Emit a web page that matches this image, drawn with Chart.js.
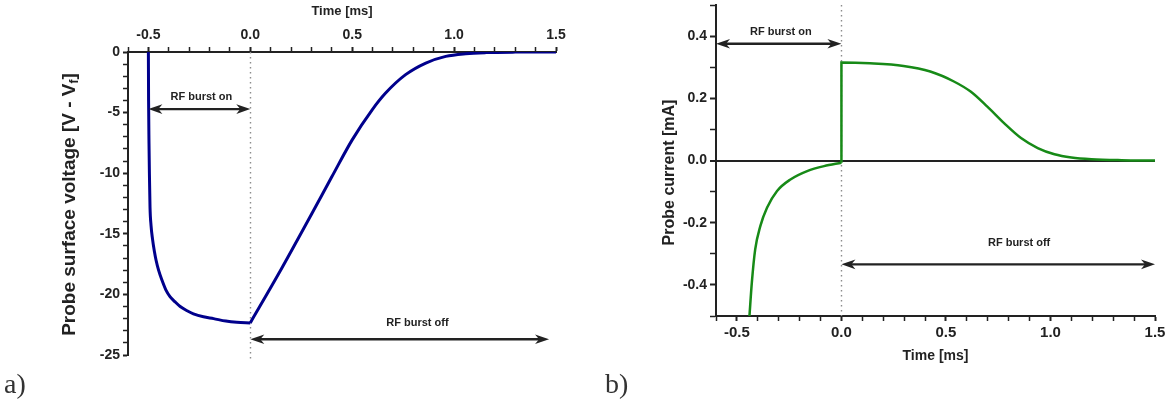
<!DOCTYPE html>
<html><head><meta charset="utf-8">
<script src="https://cdn.jsdelivr.net/npm/chart.js@4.4.1/dist/chart.umd.min.js"></script>
<style>
html,body{margin:0;padding:0;background:#fff;}
#wrap{position:relative;width:1170px;height:405px;overflow:hidden;background:#fff;}
canvas{position:absolute;top:0;}
#ca{left:0;} #cb{left:600px;}
.lbl{position:absolute;font-family:'Liberation Serif','DejaVu Serif',serif;font-size:28px;color:#333;line-height:1;}
</style></head><body>
<div id="wrap">
<canvas id="ca" width="600" height="405"></canvas>
<canvas id="cb" width="570" height="405"></canvas>
<div class="lbl" style="left:4px;top:370px">a)</div>
<div class="lbl" style="left:605px;top:370px">b)</div>
</div>
<script>
// ---------- data ----------
// a) probe surface voltage, RF burst on (t < 0)
const timeOnA = [-0.5, -0.499, -0.497, -0.495, -0.492, -0.487, -0.48, -0.47, -0.462, -0.45, -0.434, -0.415, -0.393, -0.37, -0.344, -0.31, -0.279, -0.23, -0.18, -0.12, -0.066, 0];
const voltOnA = [0, -4, -7.5, -10, -12.8, -14.3, -15.4, -16.5, -17.2, -18.0, -18.8, -19.6, -20.2, -20.6, -21.0, -21.35, -21.6, -21.85, -22.0, -22.2, -22.3, -22.35];
// a) RF burst off (t >= 0)
const timeOffA = [0, 0.139, 0.303, 0.40, 0.5, 0.598, 0.664, 0.762, 0.861, 0.959, 1.057, 1.156, 1.3, 1.5];
const voltOffA = [-22.35, -18.3, -13.3, -10.3, -7.25, -4.77, -3.39, -1.87, -0.91, -0.36, -0.14, -0.05, -0.01, 0];
// b) probe current, RF burst on
const timeOnB = [-0.44, -0.4286, -0.4125, -0.388, -0.356, -0.308, -0.244, -0.164, -0.083, 0];
const currOnB = [-0.5, -0.393, -0.286, -0.211, -0.152, -0.098, -0.061, -0.034, -0.018, -0.0075];
// b) RF burst off
const timeOffB = [0, 0, 0.136, 0.297, 0.425, 0.538, 0.618, 0.698, 0.778, 0.859, 0.939, 1.019, 1.1, 1.196, 1.34, 1.5];
const currOffB = [-0.0075, 0.315, 0.3125, 0.304, 0.286, 0.254, 0.2215, 0.173, 0.12, 0.072, 0.040, 0.020, 0.0096, 0.004, 0.001, 0];
// axis ranges / tick labels
const timeRange = [-0.6, 1.5];
const voltRange = [-25, 0];
const currRange = [-0.5, 0.5];
// annotations (data units)
const annotA = [
  {from: -0.5, to: 0, y: -4.71, text: 'RF burst on', tx: -0.24, ty: -3.72},
  {from: 0, to: 1.466, y: -23.7, text: 'RF burst off', tx: 0.82, ty: -22.35}
];
const annotB = [
  {from: -0.6, to: 0, y: 0.3756, text: 'RF burst on', tx: -0.29, ty: 0.413},
  {from: 0, to: 1.5, y: -0.334, text: 'RF burst off', tx: 0.85, ty: -0.266}
];

// ---------- helpers ----------
Chart.defaults.font.family = "'Liberation Sans', Arial, sans-serif";
const INK = '#222';
const pts = (xs, ys) => xs.map((x, i) => ({x: x, y: ys[i]}));
const near = (v, s) => Math.abs(v / s - Math.round(v / s)) < 1e-6;

const annotPlugin = {
  id: 'annot',
  beforeDatasetsDraw(chart, args, o) {
    const {ctx, chartArea: ca, scales: {x}} = chart;
    const px = Math.round(x.getPixelForValue(0)) + 0.5;
    ctx.save();
    ctx.strokeStyle = '#8c8c8c'; ctx.lineWidth = 1.4; ctx.setLineDash([1.5, 3.5]);
    ctx.beginPath(); ctx.moveTo(px, ca.top + (o.dotTop || 0)); ctx.lineTo(px, ca.bottom + (o.dotExtend || 0)); ctx.stroke();
    ctx.restore();
  },
  afterDatasetsDraw(chart, args, o) {
    const {ctx, chartArea: ca, scales: {x, y}} = chart;
    ctx.save();
    for (const a of o.items) {
      const x1 = x.getPixelForValue(a.from), x2 = x.getPixelForValue(a.to), yy = y.getPixelForValue(a.y);
      ctx.strokeStyle = INK; ctx.fillStyle = INK; ctx.lineWidth = 2.4;
      ctx.beginPath(); ctx.moveTo(x1 + 6, yy); ctx.lineTo(x2 - 6, yy); ctx.stroke();
      const head = (tx, dir) => {
        ctx.beginPath();
        ctx.moveTo(tx, yy);
        ctx.lineTo(tx + dir * 14, yy - 4.8);
        ctx.lineTo(tx + dir * 10, yy);
        ctx.lineTo(tx + dir * 14, yy + 4.8);
        ctx.closePath(); ctx.fill();
      };
      head(x1, 1); head(x2, -1);
      ctx.font = "bold 11px 'Liberation Sans', Arial, sans-serif";
      ctx.textAlign = 'center'; ctx.textBaseline = 'middle';
      ctx.fillText(a.text, x.getPixelForValue(a.tx), y.getPixelForValue(a.ty));
    }
    // rotated y title with optional subscript
    const t = o.title;
    ctx.translate(t.x, (ca.top + ca.bottom) / 2 + (t.dy || 0));
    ctx.rotate(-Math.PI / 2);
    ctx.textAlign = 'left'; ctx.textBaseline = 'middle'; ctx.fillStyle = INK;
    let total = 0;
    for (const p of t.parts) { ctx.font = `bold ${p.size}px 'Liberation Sans', Arial, sans-serif`; p.w = ctx.measureText(p.t).width; total += p.w; }
    let cx = -total / 2;
    for (const p of t.parts) { ctx.font = `bold ${p.size}px 'Liberation Sans', Arial, sans-serif`; ctx.fillText(p.t, cx, p.dy || 0); cx += p.w; }
    ctx.restore();
  }
};

function timeAxis(pos, height, fontSize, titleSize, titlePad) {
  return {
    type: 'linear', position: pos, min: timeRange[0], max: timeRange[1],
    ticks: {stepSize: 0.1, autoSkip: false, maxTicksLimit: 100, maxRotation: 0, minRotation: 0, padding: 3,
      color: INK, font: {size: fontSize, weight: 'bold'},
      callback: v => near(v, 0.5) ? (Math.abs(v) < 1e-9 ? '0.0' : v.toFixed(1)) : ''},
    grid: {drawOnChartArea: false, drawTicks: true, tickLength: 5, tickColor: INK,
      tickWidth: c => (c.tick && near(c.tick.value, 0.5)) ? 2 : 1.5},
    border: {display: true, color: INK, width: 2},
    title: {display: true, text: 'Time [ms]', color: INK, font: {size: titleSize, weight: 'bold'}, padding: titlePad},
    afterFit: s => { s.height = height; s.paddingLeft = 0; s.paddingRight = 0; s.paddingTop = 0; s.paddingBottom = 0; }
  };
}

// ---------- chart a ----------
new Chart(document.getElementById('ca'), {
  type: 'line',
  data: {datasets: [
    {data: pts(timeOnA, voltOnA), borderColor: '#00008c', borderWidth: 3, pointRadius: 0, cubicInterpolationMode: 'monotone', fill: false},
    {data: pts(timeOffA, voltOffA), borderColor: '#00008c', borderWidth: 3, pointRadius: 0, cubicInterpolationMode: 'monotone', fill: false}
  ]},
  options: {
    responsive: false, animation: false, events: [],
    layout: {padding: {left: 0, right: 44, top: 0, bottom: 50}},
    plugins: {legend: {display: false}, tooltip: {enabled: false},
      annot: {items: annotA, dotExtend: 6, title: {x: 70, dy: 1, parts: [
        {t: 'Probe surface voltage [V - V', size: 19}, {t: 'f', size: 12, dy: 5}, {t: ']', size: 19}]}}},
    scales: {
      x: timeAxis('top', 52, 14, 13, {top: 4, bottom: 0}),
      y: {type: 'linear', position: 'left', min: voltRange[0], max: voltRange[1],
        ticks: {stepSize: 1, autoSkip: false, maxTicksLimit: 100, padding: 3, color: INK, font: {size: 14, weight: 'bold'},
          callback: v => near(v, 5) ? String(Math.round(v)) : ''},
        grid: {drawOnChartArea: false, tickLength: 5, tickColor: INK,
          tickWidth: c => (c.tick && near(c.tick.value, 5)) ? 2 : 1.5},
        border: {display: true, color: INK, width: 2},
        afterFit: s => { s.width = 128; s.paddingTop = 0; s.paddingBottom = 0; }
      }
    }
  },
  plugins: [annotPlugin]
});

// ---------- chart b ----------
new Chart(document.getElementById('cb'), {
  type: 'line',
  data: {datasets: [
    {data: pts(timeOnB, currOnB), borderColor: '#178a17', borderWidth: 2.5, pointRadius: 0, cubicInterpolationMode: 'monotone', fill: false},
    {data: pts(timeOffB, currOffB), borderColor: '#178a17', borderWidth: 2.5, pointRadius: 0, cubicInterpolationMode: 'monotone', fill: false}
  ]},
  options: {
    responsive: false, animation: false, events: [],
    layout: {padding: {left: 0, right: 15, top: 5, bottom: 40}},
    plugins: {legend: {display: false}, tooltip: {enabled: false},
      annot: {items: annotB, dotExtend: 0, title: {x: 70, dy: 12, parts: [{t: 'Probe current [mA]', size: 16}]}}},
    scales: {
      x: timeAxis('bottom', 49, 15, 14, {top: 0, bottom: 0}),
      y: {type: 'linear', position: 'left', min: currRange[0], max: currRange[1],
        ticks: {stepSize: 0.1, autoSkip: false, maxTicksLimit: 100, padding: 3, color: INK, font: {size: 14, weight: 'bold'},
          callback: v => (near(v, 0.2) && Math.abs(v) < 0.45) ? (Math.abs(v) < 1e-9 ? '0.0' : v.toFixed(1)) : ''},
        grid: {drawOnChartArea: true, tickLength: 6, tickColor: INK,
          color: c => (c.tick && Math.abs(c.tick.value) < 1e-9) ? INK : 'rgba(0,0,0,0)',
          lineWidth: c => (c.tick && Math.abs(c.tick.value) < 1e-9) ? 2 : 1,
          tickWidth: c => (c.tick && near(c.tick.value, 0.2)) ? 2 : 1.5},
        border: {display: true, color: INK, width: 2},
        afterFit: s => { s.width = 116; s.paddingTop = 0; s.paddingBottom = 0; }
      }
    }
  },
  plugins: [annotPlugin]
});
</script>
</body></html>
